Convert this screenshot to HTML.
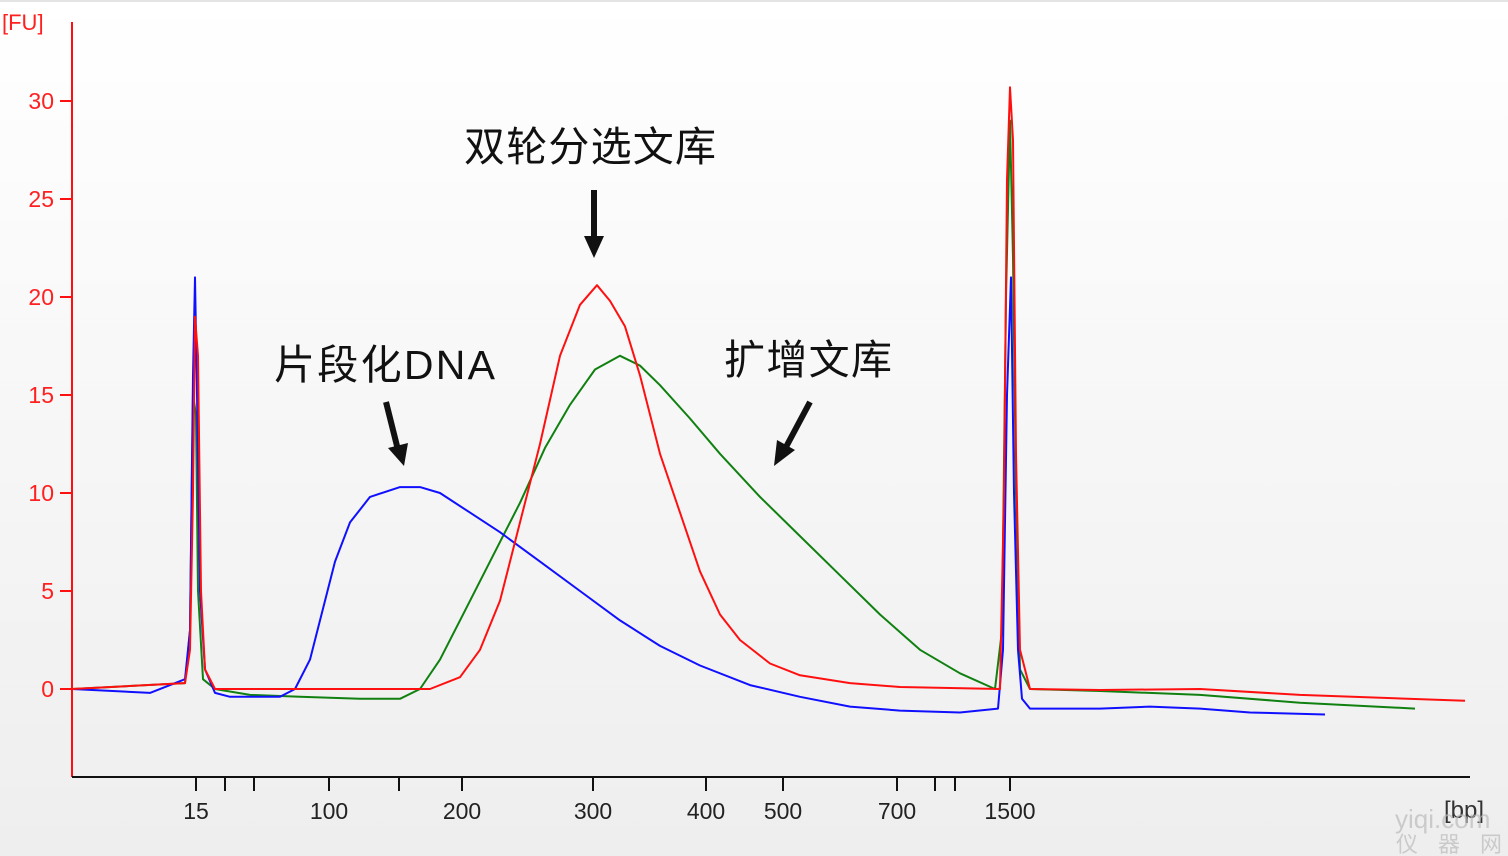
<!DOCTYPE html>
<html><head><meta charset="utf-8"><style>
html,body{margin:0;padding:0;width:1508px;height:856px;overflow:hidden;background:#f0f0f0}
svg{display:block}
text{font-family:"Liberation Sans","Noto Sans CJK SC",sans-serif}
</style></head><body>
<svg id="chart" width="1508" height="856" viewBox="0 0 1508 856">
<defs><linearGradient id="bg" x1="0" y1="0" x2="0" y2="1"><stop offset="0" stop-color="#ffffff"/><stop offset="1" stop-color="#eeeeee"/></linearGradient></defs>
<rect x="0" y="0" width="1508" height="856" fill="url(#bg)"/>
<line x1="0" y1="1" x2="1508" y2="1" stroke="#e4e4e4" stroke-width="2"/>
<g id="plot"></g>
<g id="axes"></g>
<text x="2" y="30" font-size="22" fill="#ff2020">[FU]</text>
<text x="1444" y="818" font-size="24" fill="#333">[bp]</text>
<text x="464" y="161" font-size="41" textLength="252" fill="#111">双轮分选文库</text>
<text x="274" y="379" font-size="41" textLength="221" fill="#111">片段化DNA</text>
<text x="724" y="374" font-size="41" textLength="168" fill="#111">扩增文库</text>
<g fill="#111" stroke="#111">
<line x1="594" y1="190" x2="594" y2="240" stroke-width="6"/><polygon points="584,236 604,236 594,258" stroke="none"/></g>
<g fill="#111" stroke="#111">
<line x1="386" y1="402" x2="398" y2="450" stroke-width="6"/><polygon points="388,448 408,443 404,466" stroke="none"/></g>
<g fill="#111" stroke="#111">
<line x1="810" y1="402" x2="786" y2="447" stroke-width="6"/><polygon points="777,440 795,450 774,466" stroke="none"/></g>
<text x="1395" y="828" font-size="26" fill="#bbb" opacity="0.7">yiqi.com</text>
<text x="1396" y="852" font-size="22" fill="#bbb" opacity="0.7" letter-spacing="20">仪器网</text>
</svg>
<script>
// migration index (linear x) and fluorescence (FU)
const xTickLabels=["15","100","200","300","400","500","700","1500"];
const xTickPos=[124,257,390,521,634,711,825,938];
const xMinorPos=[153,182,327,863,883];
const yTicks=[0,5,10,15,20,25,30];
const blueT=[0,78,113,118,121,123,125,128,133,143,158,208,223,238,248,263,278,298,328,348,368,398,428,468,508,548,588,628,678,728,778,828,888,926,931,935,939,942,946,950,958,1028,1078,1128,1178,1253];
const blueV=[0,-0.2,0.5,3,16,21,15,5,1,-0.2,-0.4,-0.4,0,1.5,3.5,6.5,8.5,9.8,10.3,10.3,10,9,8,6.5,5,3.5,2.2,1.2,0.2,-0.4,-0.9,-1.1,-1.2,-1,2,15,21,10,2,-0.5,-1,-1,-0.9,-1,-1.2,-1.3];
const greenT=[0,113,118,121,124,126,131,143,178,228,288,328,348,368,388,418,448,473,498,523,548,568,588,618,648,688,728,768,808,848,888,923,930,934,938,941,944,948,958,1028,1128,1228,1343];
const greenV=[0,0.3,3,15,14,5,0.5,0,-0.3,-0.4,-0.5,-0.5,0,1.5,3.5,6.5,9.5,12.3,14.5,16.3,17,16.5,15.5,13.8,12,9.8,7.8,5.8,3.8,2,0.8,0,3,20,29,22,10,1,0,-0.1,-0.3,-0.7,-1];
const redT=[0,113,118,121,123,126,129,133,143,228,328,358,388,408,428,448,468,488,508,525,538,553,568,588,608,628,648,668,698,728,778,828,928,932,935,938,941,944,948,958,1028,1128,1228,1393];
const redV=[0,0.3,2,10,19,17,5,1,0,0,0,0,0.6,2,4.5,8.5,12.5,17,19.6,20.6,19.8,18.5,16,12,9,6,3.8,2.5,1.3,0.7,0.3,0.1,0,10,26,30.7,28,12,2,0,-0.05,0,-0.3,-0.6];
const NS='http://www.w3.org/2000/svg';
const X0=72,Y0=689,FU=19.6;
function sx(t){return X0+t;}
function sy(v){return Y0-v*FU;}
const plot=document.getElementById('plot'),axes=document.getElementById('axes');
function mk(tag,attrs,parent){const e=document.createElementNS(NS,tag);for(const k in attrs)e.setAttribute(k,attrs[k]);parent.appendChild(e);return e;}
function series(T,V,color,name){
 const d=T.map((t,i)=>(i?'L':'M')+sx(t).toFixed(1)+','+sy(V[i]).toFixed(1)).join('');
 const p=mk('path',{d:d,fill:'none',stroke:color,'stroke-width':'2','stroke-linejoin':'round'},plot);
 
 
}
series(greenT,greenV,'#108010','series-amplified-library');
series(blueT,blueV,'#1010ff','series-fragmented-dna');
series(redT,redV,'#ff1010','series-double-selection-library');
const yl=mk('line',{x1:X0,y1:22,x2:X0,y2:777,stroke:'#ff1010','stroke-width':'2'},axes);


const xl=mk('line',{x1:X0,y1:777,x2:1470,y2:777,stroke:'#111','stroke-width':'2'},axes);


yTicks.forEach(v=>{
 const tk=mk('line',{x1:60,y1:sy(v),x2:X0,y2:sy(v),stroke:'#ff1010','stroke-width':'2'},axes);
 
 
 const tx=mk('text',{x:54,y:sy(v)+8,'font-size':'23','text-anchor':'end',fill:'#ff2020'},axes);
 tx.textContent=String(v);
 
 
});
xTickLabels.forEach((l,i)=>{
 const x=sx(xTickPos[i]);
 const tk=mk('line',{x1:x,y1:777,x2:x,y2:791,stroke:'#111','stroke-width':'2'},axes);
 
 
 const tx=mk('text',{x:x,y:819,'font-size':'23','text-anchor':'middle',fill:'#222'},axes);
 tx.textContent=l;
 
 
});
xMinorPos.forEach(p=>{
 const tk=mk('line',{x1:sx(p),y1:777,x2:sx(p),y2:791,stroke:'#111','stroke-width':'2'},axes);
 
 
});
</script>
</body></html>
